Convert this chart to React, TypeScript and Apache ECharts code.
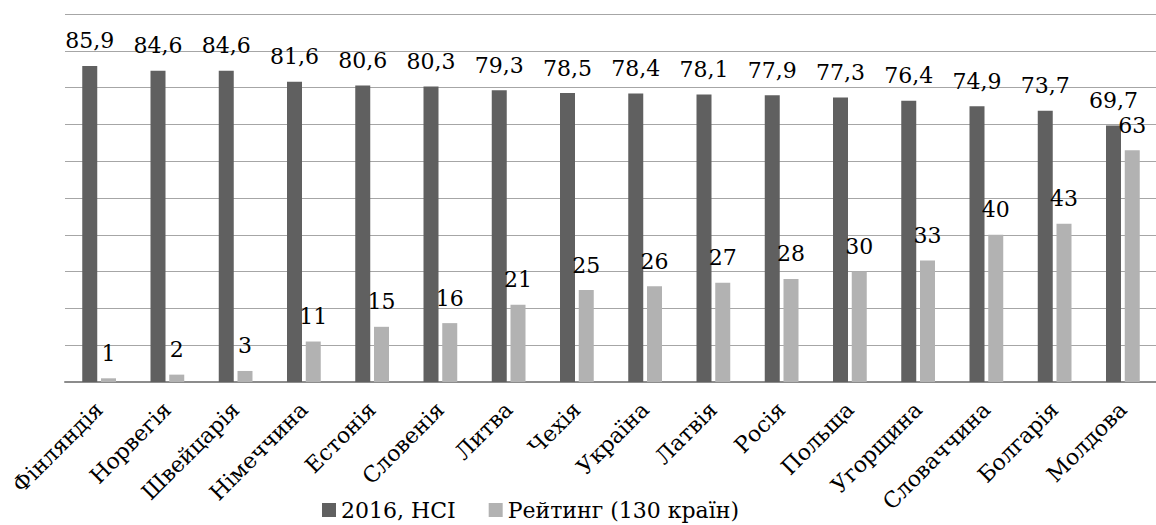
import React, { useEffect, useRef } from "react";
import * as echarts from "echarts";

const categories = [
  "Фінляндія", "Норвегія", "Швейцарія", "Німеччина", "Естонія", "Словенія",
  "Литва", "Чехія", "Україна", "Латвія", "Росія", "Польща", "Угорщина",
  "Словаччина", "Болгарія", "Молдова",
];
const hciValues = [85.9, 84.6, 84.6, 81.6, 80.6, 80.3, 79.3, 78.5, 78.4, 78.1, 77.9, 77.3, 76.4, 74.9, 73.7, 69.7];
const rankValues = [1, 2, 3, 11, 15, 16, 21, 25, 26, 27, 28, 30, 33, 40, 43, 63];
const seriesNames = ["2016, HCI", "Рейтинг (130 країн)"];

const FONT = "DejaVu Serif";
const FS = 22;

export default function App() {
  const ref = useRef<HTMLDivElement>(null);
  useEffect(() => {
    const chart = echarts.init(ref.current!, null, { renderer: "svg" });
    chart.setOption({
      animation: false,
      backgroundColor: "#ffffff",
      textStyle: { fontFamily: FONT },
      grid: { left: 65, right: -1, top: 14, bottom: 143, outerBoundsMode: "none", containLabel: false },
      legend: {
        left: 317,
        top: 494,
        itemWidth: 14,
        itemHeight: 14,
        itemGap: 33,
        icon: "rect",
        textStyle: { fontFamily: FONT, fontSize: FS, color: "#000" },
        data: seriesNames,
      },
      xAxis: {
        type: "category",
        data: categories,
        axisLine: { lineStyle: { color: "#8c8c8c", width: 2 } },
        axisTick: { show: false },
        axisLabel: {
          rotate: 45,
          interval: 0,
          margin: 24,
          fontFamily: FONT,
          fontSize: FS,
          color: "#000",
        },
      },
      yAxis: {
        type: "value",
        min: 0,
        max: 100,
        interval: 10,
        axisLabel: { show: false },
        axisLine: { show: false },
        axisTick: { show: false },
        splitLine: { lineStyle: { color: "#a6a6a6", width: 1 } },
      },
      series: [
        {
          name: seriesNames[0],
          type: "bar",
          data: hciValues,
          barWidth: 15,
          barGap: "25%",
          itemStyle: { color: "#606060" },
          label: {
            show: true,
            position: "top",
            distance: 14,
            fontFamily: FONT,
            fontSize: FS,
            color: "#000",
            formatter: (p: any) => String(p.value).replace(".", ","),
          },
        },
        {
          name: seriesNames[1],
          type: "bar",
          data: rankValues,
          barWidth: 15,
          itemStyle: { color: "#b2b2b2" },
          label: {
            show: true,
            position: "top",
            distance: 14,
            fontFamily: FONT,
            fontSize: FS,
            color: "#000",
          },
        },
      ],
    });
    return () => chart.dispose();
  }, []);
  return (
    <div
      ref={ref}
      style={{ position: "absolute", left: 0, top: 0, width: 1156, height: 525 }}
    />
  );
}
